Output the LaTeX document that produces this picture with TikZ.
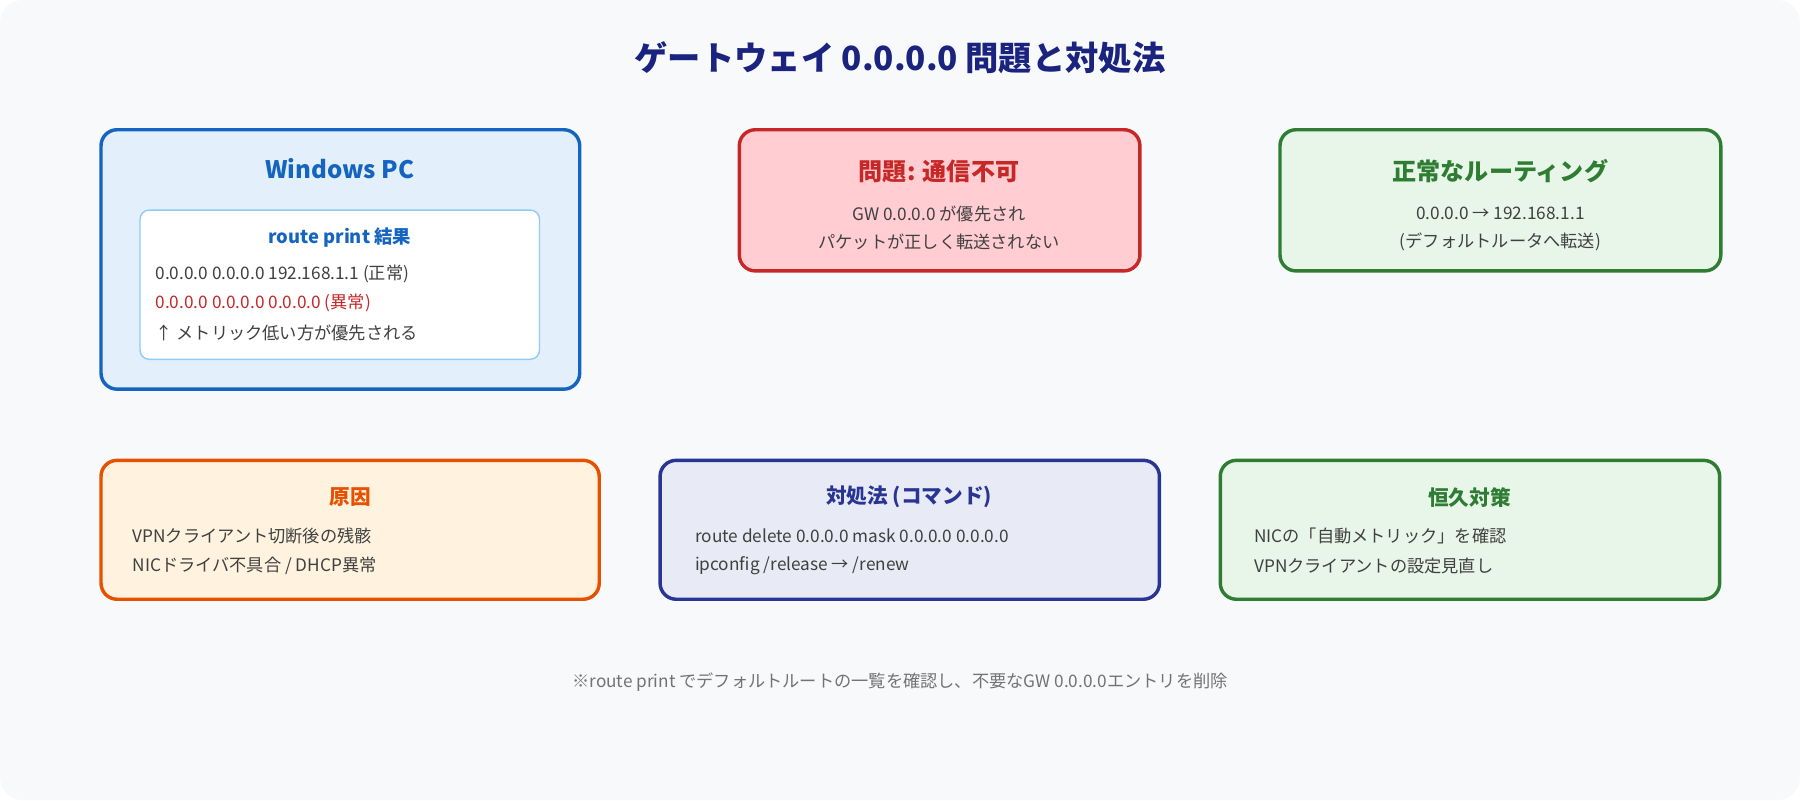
\documentclass[tikz,border=0pt]{standalone}
\usepackage{fontspec}
\setmainfont{Noto Sans CJK JP}
\begin{document}
\begin{tikzpicture}[x=1pt,y=-1pt,
  box/.style={draw,line width=3pt,rounded corners=14pt},
  ttl/.style={font=\fontsize{21}{25}\selectfont\bfseries},
  txt/.style={font=\fontsize{15}{18}\selectfont,text=black!75},
  ltxt/.style={txt,anchor=west}]
\definecolor{bg}{HTML}{F8F9FB}
\definecolor{navy}{HTML}{1A237E}
\definecolor{bl}{HTML}{1565C0}
\definecolor{blf}{HTML}{E3F0FC}
\definecolor{lbl}{HTML}{90CAF9}
\definecolor{rd}{HTML}{C62828}
\definecolor{rdf}{HTML}{FFCDD2}
\definecolor{gr}{HTML}{2E7D32}
\definecolor{grf}{HTML}{E8F5E9}
\definecolor{og}{HTML}{E65100}
\definecolor{ogf}{HTML}{FFF3E0}
\definecolor{ind}{HTML}{283593}
\definecolor{indf}{HTML}{E8EAF6}
\useasboundingbox (0,0) rectangle (1568,697);
\fill[bg,rounded corners=20pt] (0,0) rectangle (1568,697);
\node[font=\fontsize{29}{34}\selectfont\bfseries,text=navy] (title) at (784,50) {ゲートウェイ 0.0.0.0 問題と対処法};
% Windows PC
\draw[box,bl,fill=blf] (88,113) rectangle (505,339);
\node[ttl,text=bl] (wt) at (296,147) {Windows PC};
\draw[draw=lbl,fill=white,line width=1.2pt,rounded corners=8pt] (122,183) rectangle (470,313);
\node[font=\fontsize{16}{19}\selectfont\bfseries,text=bl] (rp) at (296,207) {route print 結果};
\node[ltxt] (r1) at (132,239) {0.0.0.0 0.0.0.0 192.168.1.1 (正常)};
\node[ltxt,text=rd] (r2) at (132,264) {0.0.0.0 0.0.0.0 0.0.0.0 (異常)};
\node[ltxt] (r3) at (132,290) {↑ メトリック低い方が優先される};
% problem
\draw[box,rd,fill=rdf] (644,113) rectangle (993,236);
\node[ttl,text=rd] (pt) at (818,149) {問題: 通信不可};
\node[txt] (p1) at (818,186) {GW 0.0.0.0 が優先され};
\node[txt] (p2) at (818,211) {パケットが正しく転送されない};
% normal
\draw[box,gr,fill=grf] (1115,113) rectangle (1499,236);
\node[ttl,text=gr] (nt) at (1307,149) {正常なルーティング};
\node[txt] (n1) at (1307,186) {0.0.0.0 → 192.168.1.1};
\node[txt] (n2) at (1307,211) {(デフォルトルータへ転送)};
% cause
\draw[box,og,fill=ogf] (88,401) rectangle (522,522);
\node[ttl,font=\fontsize{18}{22}\selectfont\bfseries,text=og] (ct) at (305,433) {原因};
\node[ltxt] (c1) at (112,467) {VPNクライアント切断後の残骸};
\node[ltxt] (c2) at (112,493) {NICドライバ不具合 / DHCP異常};
% command
\draw[box,ind,fill=indf] (575,401) rectangle (1010,522);
\node[ttl,font=\fontsize{18}{22}\selectfont\bfseries,text=ind] (kt) at (792,433) {対処法 (コマンド)};
\node[ltxt] (k1) at (602,467) {route delete 0.0.0.0 mask 0.0.0.0 0.0.0.0};
\node[ltxt] (k2) at (602,493) {ipconfig /release → /renew};
% permanent
\draw[box,gr,fill=grf] (1063,401) rectangle (1498,522);
\node[ttl,font=\fontsize{18}{22}\selectfont\bfseries,text=gr] (et) at (1280,433) {恒久対策};
\node[ltxt] (e1) at (1089,467) {NICの「自動メトリック」を確認};
\node[ltxt] (e2) at (1089,493) {VPNクライアントの設定見直し};
\node[txt,text=black!55] (foot) at (784,594) {※route print でデフォルトルートの一覧を確認し、不要なGW 0.0.0.0エントリを削除};
\end{tikzpicture}
\end{document}
